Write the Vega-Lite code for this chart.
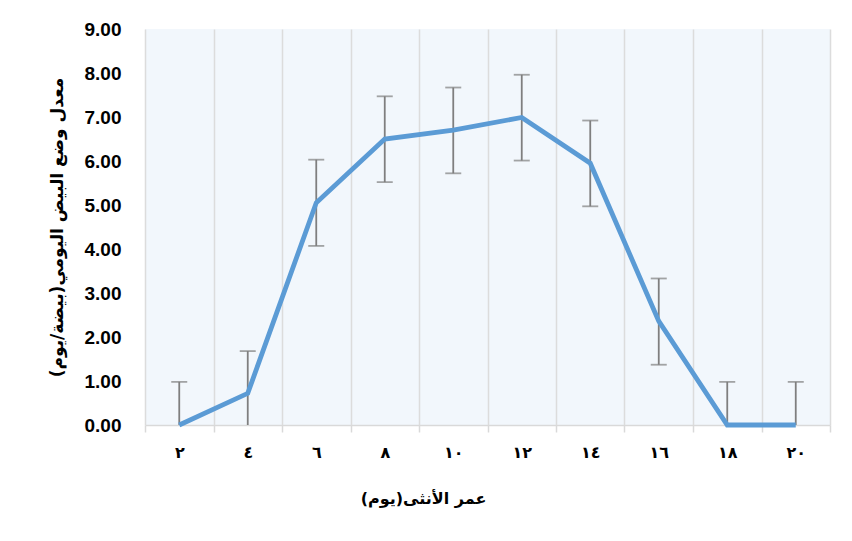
{
  "$schema": "https://vega.github.io/schema/vega-lite/v6.json",
  "width": 685,
  "height": 396,
  "autosize": {"type": "none"},
  "padding": {"left": 145, "top": 29, "right": 22, "bottom": 116},
  "background": "white",
  "config": {"view": {"stroke": null, "fill": "#f2f7fc"}},
  "data": {
    "values": [
      {"age": 2, "mean": 0, "lo": -0.98, "hi": 0.98},
      {"age": 4, "mean": 0.72, "lo": -0.26, "hi": 1.68},
      {"age": 6, "mean": 5.05, "lo": 4.07, "hi": 6.03},
      {"age": 8, "mean": 6.5, "lo": 5.52, "hi": 7.47},
      {"age": 10, "mean": 6.7, "lo": 5.72, "hi": 7.67},
      {"age": 12, "mean": 6.99, "lo": 6.01, "hi": 7.96},
      {"age": 14, "mean": 5.95, "lo": 4.97, "hi": 6.92},
      {"age": 16, "mean": 2.36, "lo": 1.37, "hi": 3.33},
      {"age": 18, "mean": 0, "lo": -0.98, "hi": 0.98},
      {"age": 20, "mean": 0, "lo": -0.98, "hi": 0.98}
    ]
  },
  "encoding": {
    "x": {
      "field": "age",
      "type": "quantitative",
      "scale": {"domain": [1, 21], "nice": false, "zero": false},
      "axis": {
        "values": [1, 3, 5, 7, 9, 11, 13, 15, 17, 19, 21],
        "grid": true,
        "gridColor": "#dcdcdc",
        "gridWidth": 1.5,
        "domainColor": "#d9d9d9",
        "domainWidth": 1.5,
        "tickColor": "#d9d9d9",
        "tickWidth": 1.5,
        "tickSize": 7,
        "labelExpr": "datum.value < 21 ? ['٢','٤','٦','٨','١٠','١٢','١٤','١٦','١٨','٢٠'][(datum.value - 1) / 2] : ''",
        "labelOffset": 34.25,
        "labelOverlap": false,
        "labelBound": false,
        "labelFlush": false,
        "labelFont": "DejaVu Sans",
        "labelFontSize": 16,
        "labelFontWeight": "bold",
        "labelColor": "black",
        "labelPadding": 12,
        "title": "عمر الأنثى(يوم)",
        "titleFont": "DejaVu Sans",
        "titleFontSize": 16,
        "titleFontWeight": "bold",
        "titleColor": "black",
        "titlePadding": 30,
        "titleX": 278
      }
    }
  },
  "layer": [
    {
      "mark": {"type": "rule", "color": "#7f7f7f", "strokeWidth": 1.8, "clip": true},
      "encoding": {
        "y": {
          "field": "lo",
          "type": "quantitative",
          "scale": {"domain": [0, 9], "nice": false, "zero": false},
          "axis": {
            "values": [0, 1, 2, 3, 4, 5, 6, 7, 8, 9],
            "format": ".2f",
            "grid": false,
            "domain": false,
            "ticks": false,
            "labelFont": "Liberation Sans",
            "labelFontSize": 19,
            "labelFontWeight": "bold",
            "labelColor": "black",
            "labelPadding": 24,
            "title": "معدل وضع البيض اليومي(بيضة/يوم)",
            "titleFont": "DejaVu Sans",
            "titleFontSize": 17,
            "titleFontWeight": "bold",
            "titleColor": "black",
            "titlePadding": 18
          }
        },
        "y2": {"field": "hi"}
      }
    },
    {
      "mark": {"type": "tick", "color": "#7f7f7f", "thickness": 1.8, "size": 16, "orient": "horizontal", "clip": true},
      "encoding": {"y": {"field": "hi", "type": "quantitative"}}
    },
    {
      "mark": {"type": "tick", "color": "#7f7f7f", "thickness": 1.8, "size": 16, "orient": "horizontal", "clip": true},
      "encoding": {"y": {"field": "lo", "type": "quantitative"}}
    },
    {
      "mark": {"type": "line", "color": "#5b9bd5", "strokeWidth": 4.8},
      "encoding": {"y": {"field": "mean", "type": "quantitative"}}
    }
  ]
}
